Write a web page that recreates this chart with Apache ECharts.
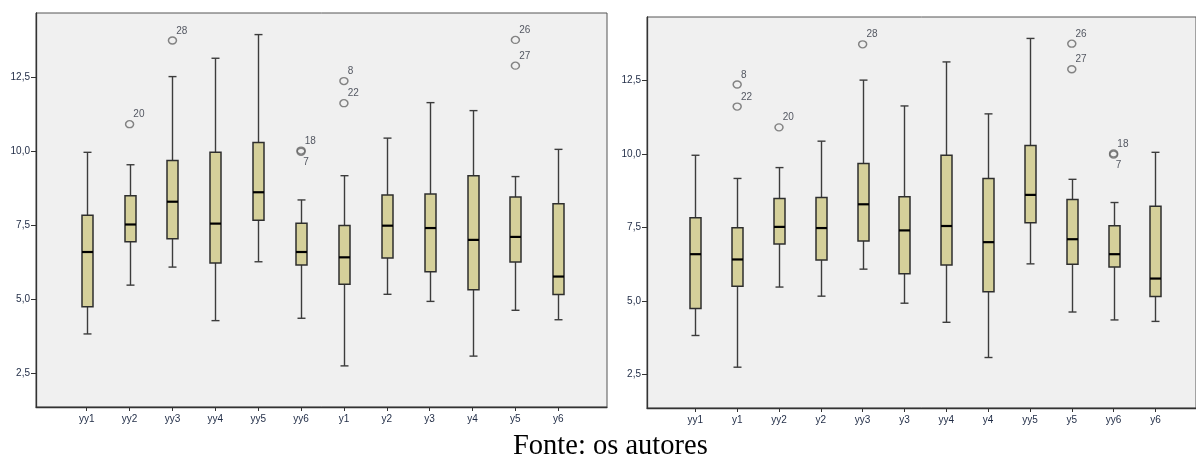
<!DOCTYPE html>
<html>
<head>
<meta charset="utf-8">
<script src="https://cdn.jsdelivr.net/npm/echarts@6.0.0/dist/echarts.min.js"></script>
<style>
  html, body { margin: 0; padding: 0; background: #ffffff; }
  #chart { width: 1196px; height: 455px; }
</style>
</head>
<body>
<div id="chart"></div>
<script>
// ---- Data ----
const variables   = ['yy1', 'yy2', 'yy3', 'yy4', 'yy5', 'yy6', 'y1', 'y2', 'y3', 'y4', 'y5', 'y6'];
const leftOrder   = ['yy1', 'yy2', 'yy3', 'yy4', 'yy5', 'yy6', 'y1', 'y2', 'y3', 'y4', 'y5', 'y6'];
const rightOrder  = ['yy1', 'y1', 'yy2', 'y2', 'yy3', 'y3', 'yy4', 'y4', 'yy5', 'y5', 'yy6', 'y6'];
const whiskerLow  = [3.82, 5.47, 6.08, 4.27, 6.26, 4.35, 2.74, 5.16, 4.92, 3.07, 4.62, 4.30];
const quartile1   = [4.74, 6.94, 7.04, 6.22, 7.66, 6.15, 5.50, 6.39, 5.92, 5.31, 6.25, 5.15];
const medianVals  = [6.59, 7.52, 8.29, 7.55, 8.61, 6.59, 6.41, 7.48, 7.40, 7.00, 7.10, 5.76];
const quartile3   = [7.83, 8.49, 9.68, 9.96, 10.29, 7.56, 7.49, 8.52, 8.55, 9.17, 8.45, 8.22];
const whiskerHigh = [9.96, 9.54, 12.52, 13.14, 13.94, 8.35, 9.17, 10.44, 11.64, 11.37, 9.14, 10.06];
const outlierVar   = ['yy2', 'yy3', 'yy6', 'yy6', 'y1', 'y1', 'y5', 'y5'];
const outlierValue = [10.91, 13.74, 10.02, 9.98, 12.37, 11.62, 13.76, 12.89];
const outlierCase  = ['20', '28', '18', '7', '8', '22', '26', '27'];
const yTickValues  = [2.5, 5.0, 7.5, 10.0, 12.5];
const caption = 'Fonte: os autores';

// ---- Build ----
const chart = echarts.init(document.getElementById('chart'), null, { renderer: 'canvas' });

const BOX_FILL = '#d5d09a';
const LABEL_COLOR = '#1e2a44';

function boxData(order) {
  return order.map((name, i) => {
    const k = variables.indexOf(name);
    return [i, whiskerLow[k], quartile1[k], medianVals[k], quartile3[k], whiskerHigh[k]];
  });
}
function outlierData(order) {
  return outlierVar.map((name, j) => {
    const below = outlierCase[j] === '7';
    return {
      value: [order.indexOf(name), outlierValue[j]],
      label: {
        show: true,
        formatter: outlierCase[j],
        position: below ? [7, 14.5] : [8.5, -5.5],
        align: 'left',
        verticalAlign: 'middle',
        fontFamily: 'Liberation Sans, Arial, sans-serif',
        fontSize: 10,
        color: '#2a2f3c'
      }
    };
  });
}

function renderBox(params, api) {
  const i = api.value(0);
  const x = Math.round(api.coord([i, api.value(3)])[0]) + 0.5;
  const yMin = api.coord([i, api.value(1)])[1];
  const yQ1 = api.coord([i, api.value(2)])[1];
  const yMed = api.coord([i, api.value(3)])[1];
  const yQ3 = api.coord([i, api.value(4)])[1];
  const yMax = api.coord([i, api.value(5)])[1];
  const bw = 11, cw = 8;
  const wStyle = { stroke: '#3c3c3c', lineWidth: 1.4 };
  return {
    type: 'group',
    children: [
      { type: 'line', shape: { x1: x, y1: yMax, x2: x, y2: yQ3 }, style: wStyle },
      { type: 'line', shape: { x1: x, y1: yQ1, x2: x, y2: yMin }, style: wStyle },
      { type: 'line', shape: { x1: x - cw / 2, y1: yMax, x2: x + cw / 2, y2: yMax }, style: wStyle },
      { type: 'line', shape: { x1: x - cw / 2, y1: yMin, x2: x + cw / 2, y2: yMin }, style: wStyle },
      { type: 'rect', shape: { x: x - bw / 2, y: yQ3, width: bw, height: yQ1 - yQ3 },
        style: { fill: BOX_FILL, stroke: '#2e2e2e', lineWidth: 1.5 } },
      { type: 'line', shape: { x1: x - bw / 2, y1: yMed, x2: x + bw / 2, y2: yMed },
        style: { stroke: '#000000', lineWidth: 2.2 } }
    ]
  };
}

function makeAxes(order, gridIndex, xMin, xMax) {
  const idx = order.map((_, i) => i);
  return {
    x: {
      type: 'value', gridIndex: gridIndex, min: xMin, max: xMax,
      splitLine: { show: false },
      axisLine: { show: true, onZero: false, lineStyle: { color: '#333333', width: 1.3 } },
      axisTick: { show: true, customValues: idx, length: 4, lineStyle: { color: '#333333' } },
      axisLabel: {
        show: true, customValues: idx, margin: 7,
        formatter: v => order[Math.round(v)] || '',
        fontFamily: 'Liberation Sans, Arial, sans-serif', fontSize: 10, color: LABEL_COLOR
      }
    },
    y: {
      type: 'value', gridIndex: gridIndex, min: 1.35, max: 14.67,
      splitLine: { show: false },
      axisLine: { show: true, onZero: false, lineStyle: { color: '#333333', width: 1.3 } },
      axisTick: { show: true, customValues: yTickValues, length: 5, lineStyle: { color: '#333333' } },
      axisLabel: {
        show: true, customValues: yTickValues, margin: 6,
        formatter: v => v.toFixed(1).replace('.', ','),
        fontFamily: 'Liberation Sans, Arial, sans-serif', fontSize: 10, color: LABEL_COLOR
      }
    }
  };
}

const left = makeAxes(leftOrder, 0, -1.183, 12.137);
const right = makeAxes(rightOrder, 1, -1.156, 11.97);

const outlierStyle = { color: 'rgba(0,0,0,0)', borderColor: '#666666', borderWidth: 1.4 };

chart.setOption({
  animation: false,
  backgroundColor: '#ffffff',
  grid: [
    { left: 36, top: 13, width: 571, height: 394, show: true,
      backgroundColor: '#f0f0f0', borderColor: '#555555', borderWidth: 1 },
    { left: 647, top: 17, width: 553, height: 391, show: true,
      backgroundColor: '#f0f0f0', borderColor: '#555555', borderWidth: 1 }
  ],
  xAxis: [left.x, right.x],
  yAxis: [left.y, right.y],
  series: [
    { type: 'custom', xAxisIndex: 0, yAxisIndex: 0, renderItem: renderBox,
      encode: { x: 0, y: [1, 2, 3, 4, 5] }, data: boxData(leftOrder) },
    { type: 'custom', xAxisIndex: 1, yAxisIndex: 1, renderItem: renderBox,
      encode: { x: 0, y: [1, 2, 3, 4, 5] }, data: boxData(rightOrder) },
    { type: 'scatter', xAxisIndex: 0, yAxisIndex: 0, symbol: 'circle', symbolSize: [8, 7],
      itemStyle: outlierStyle, data: outlierData(leftOrder) },
    { type: 'scatter', xAxisIndex: 1, yAxisIndex: 1, symbol: 'circle', symbolSize: [8, 7],
      itemStyle: outlierStyle, data: outlierData(rightOrder) }
  ],
  graphic: [
    { type: 'text', left: 513, top: 432,
      style: { text: caption, font: '28.5px "Liberation Serif", "DejaVu Serif", serif', fill: '#000000' } }
  ]
});
</script>
</body>
</html>
